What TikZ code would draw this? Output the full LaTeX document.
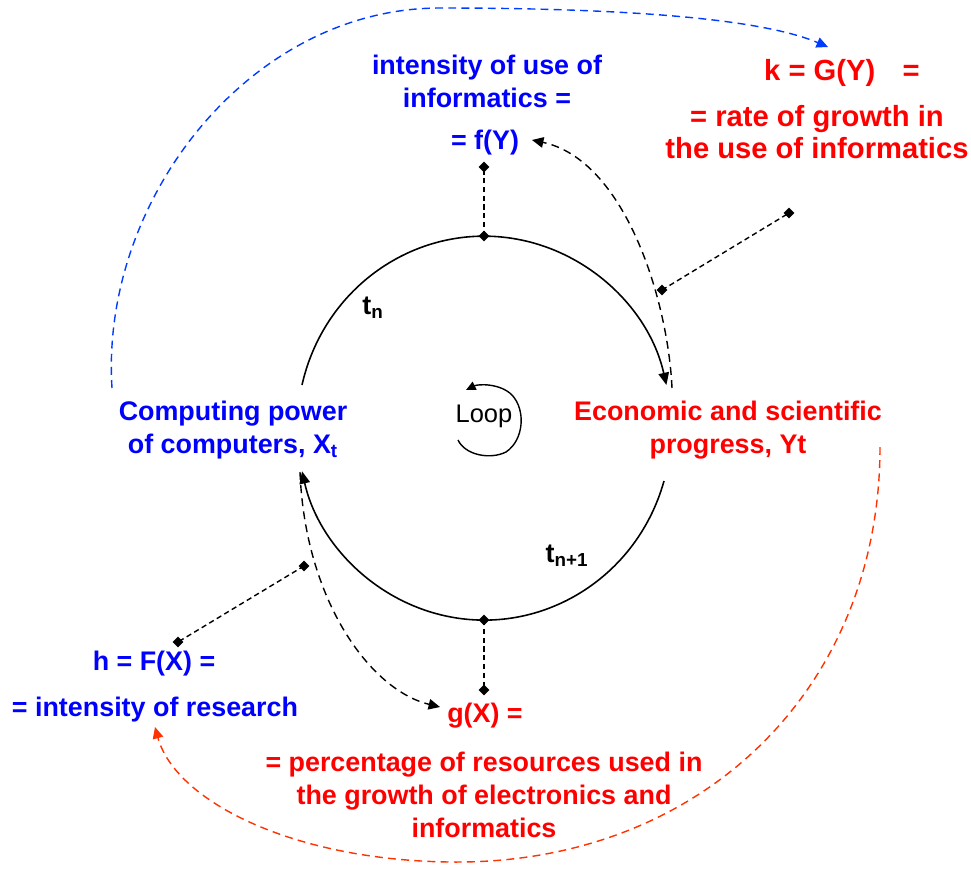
\documentclass[tikz,border=0pt]{standalone}
\usepackage{fontspec}
\setmainfont{Liberation Sans}
\usepackage{xcolor}
\usepackage{tikz}
\usetikzlibrary{
    arrows.meta,
    calc
}

\definecolor{txtblue}{RGB}{0,0,255}
\definecolor{txtred}{RGB}{255,0,0}
\definecolor{arcblue}{RGB}{0,60,255}
\definecolor{arcred}{RGB}{255,50,0}

\tikzset{
    lbl/.style={font=\fontsize{15.3}{18.7}\selectfont\bfseries, align=center, inner sep=0pt},
    biglbl/.style={lbl, font=\fontsize{16.6}{18.2}\selectfont\bfseries},
    dmd/.style={fill=black, rotate=45, minimum size=0.15cm, inner sep=0pt},
    tie/.style={dash pattern=on 3pt off 2pt, line width=0.8pt},
    feed/.style={dash pattern=on 4.5pt off 3pt, line width=0.8pt, -{Triangle[length=6.5pt,width=6pt]}},
    cyc/.style={line width=0.9pt, -{Triangle[length=7pt,width=6pt]}}
}

\begin{document}
\begin{tikzpicture}[x=0.02cm, y=-0.02cm]
        \useasboundingbox (0,0) rectangle (971,877);

        % The two halves of the cycle
        \draw[cyc] (302,385) arc[start angle=193, end angle=347, x radius=187, y radius=192];
        \draw[cyc] (664,481) arc[start angle=16, end angle=167, x radius=187, y radius=192];

        % Loop sign in the middle
        \node[font=\fontsize{14.5}{17}\selectfont, inner sep=0pt] (loop) at (484,416) {Loop};
        \draw[line width=0.8pt, {Triangle[length=5.5pt,width=5pt]}-] (466,390) .. controls (478,384) and (500,383) .. (512,395) .. controls (526,410) and (524,440) .. (506,452) .. controls (490,460) and (465,455) .. (458,440);

        % Labels
        \node[lbl, txtblue] (usein) at (487,81) {intensity of use of\\informatics =};
        \node[lbl, txtblue] (fy) at (485,143) {= f(Y)};
        \node[biglbl, txtred] (kgy) at (842,73) {k = G(Y)\hspace{0.55cm}=};
        \node[biglbl, txtred] (rate) at (817,132) {= rate of growth in\\the use of informatics};
        \node[lbl, txtblue] (comp) at (233,430) {Computing power\\of computers, X\textsubscript{t}};
        \node[lbl, txtred] (econ) at (728,430) {Economic and scientific\\progress, Yt};
        \node[lbl] (tn) at (373,308) {t\textsubscript{n}};
        \node[lbl] (tn1) at (567,556) {t\textsubscript{n+1}};
        \node[lbl, txtblue] (hfx) at (154,664) {h = F(X) =};
        \node[lbl, txtblue] (research) at (155,710) {= intensity of research};
        \node[lbl, txtred] (gx) at (485,716) {g(X) =};
        \node[lbl, txtred] (percent) at (484,795) {= percentage of resources used in\\the growth of electronics and\\informatics};

        % Ties from the cycle to f(Y) and g(X)
        \node[dmd] (top) at (484,236) {};
        \node[dmd] (fyd) at (484,167) {};
        \draw[tie] (top.center) -- (fyd.center);
        \node[dmd] (bot) at (484,620) {};
        \node[dmd] (gxd) at (484,690) {};
        \draw[tie] (bot.center) -- (gxd.center);

        % Progress feeds back into f(Y)
        \coordinate (ys) at (672,388);
        \coordinate (fytip) at (532,140);
        \draw[feed] (ys) .. controls (668,300) and (625,160) .. (fytip);
        \node[dmd] (ym) at (662,290) {};
        \node[dmd] (ye) at (789,213) {};
        \draw[tie] (ym.center) -- (ye.center);

        % Computing power feeds into g(X)
        \coordinate (xs) at (300,472);
        \coordinate (gxtip) at (440,707);
        \draw[feed] (xs) .. controls (305,600) and (370,690) .. (gxtip);
        \node[dmd] (xm) at (304,566) {};
        \node[dmd] (xe) at (178,642) {};
        \draw[tie] (xm.center) -- (xe.center);

        % Long feedbacks
        \coordinate (bs) at (112,388);
        \coordinate (btip) at (828,47);
        \draw[feed, arcblue] (bs) .. controls (100,200) and (250,8) .. (440,8) .. controls (620,8) and (760,18) .. (btip);
        \coordinate (rs) at (880,447);
        \coordinate (rtip) at (155,727);
        \draw[feed, arcred] (rs) .. controls (880,690) and (700,865) .. (450,862) .. controls (290,860) and (175,800) .. (rtip);
    \end{tikzpicture}
\end{document}
